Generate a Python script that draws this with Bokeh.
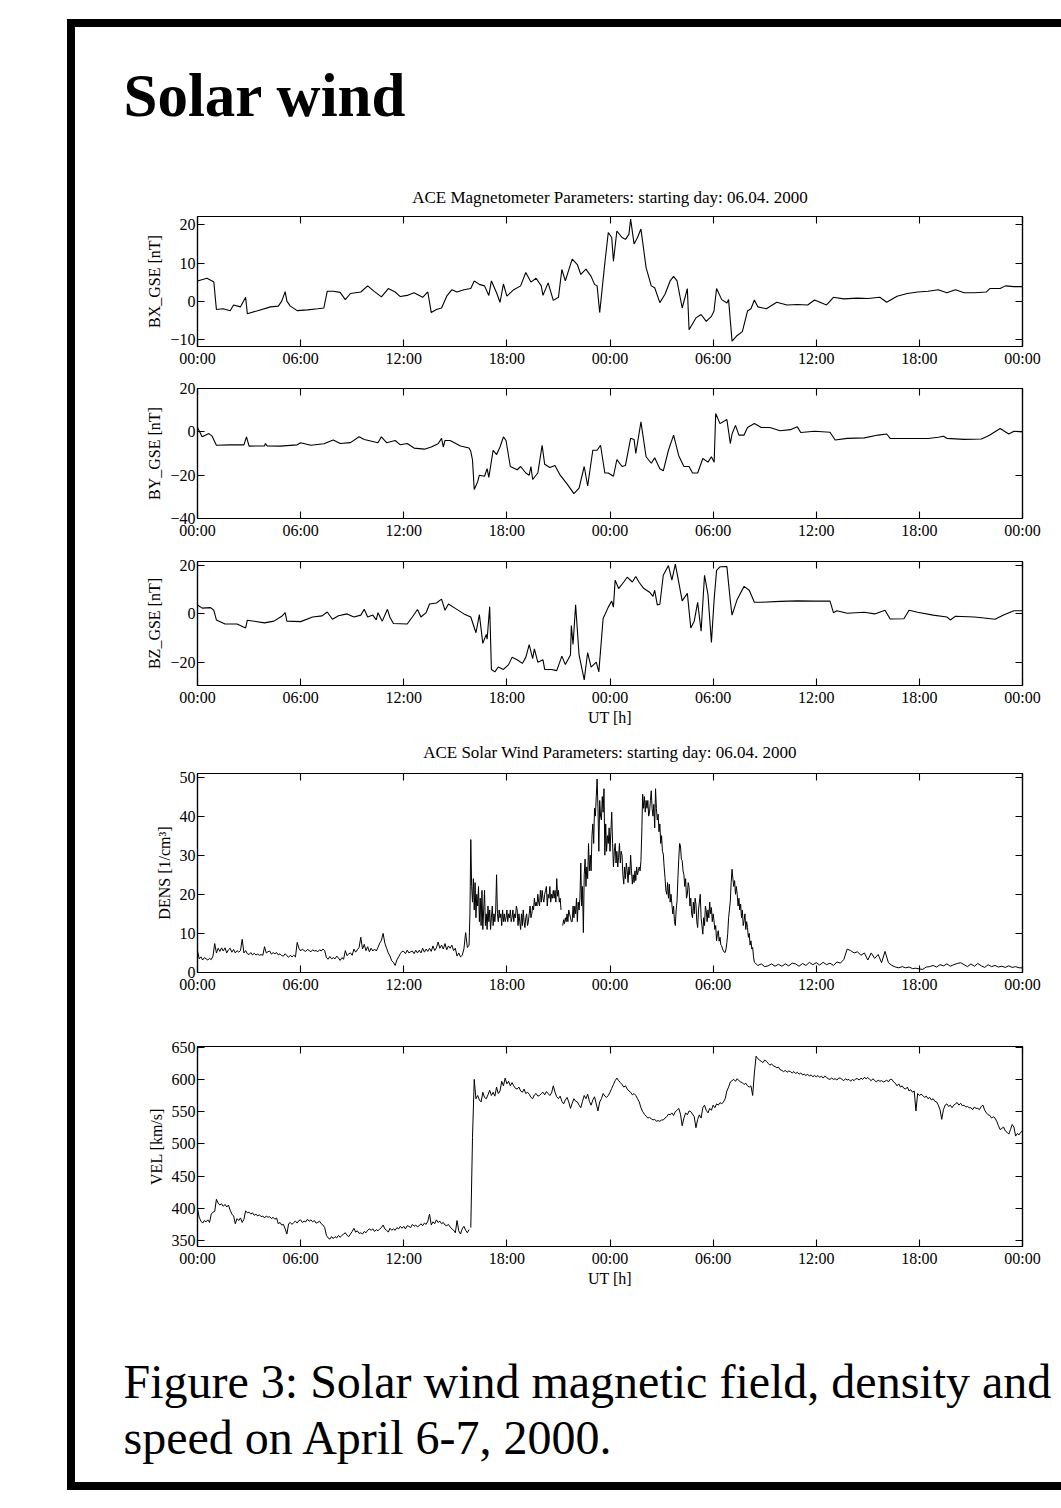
from bokeh.plotting import figure
from bokeh.layouts import column
from bokeh.models import Range1d, LinearAxis, FixedTicker, Label
from bokeh.embed import file_html
from bokeh.resources import INLINE

nan = float("nan")

# ---------------- data ----------------
x_tick_values = [0, 6, 12, 18, 24, 30, 36, 42, 48]
x_tick_labels = ["00:00", "06:00", "12:00", "18:00", "00:00", "06:00", "12:00", "18:00", "00:00"]

t_bx = [0.0, 0.55, 0.85, 0.95, 1.1, 1.5, 1.9, 2.1, 2.5, 2.8, 2.9, 3.5, 4.25, 4.7, 4.9, 5.1, 5.2, 5.4, 5.8, 6.4,
        7.0, 7.35, 7.55, 7.9, 8.3, 8.6, 8.9, 9.5, 9.9, 10.3, 10.7, 11.1, 11.5, 11.8, 12.2, 12.6, 13.1, 13.4, 13.6,
        13.9, 14.2, 14.5, 14.8, 15.1, 15.5, 15.9, 16.1, 16.4, 16.7, 16.95, 17.1, 17.4, 17.6, 17.8, 18.0, 18.4,
        18.8, 19.1, 19.4, 19.7, 20.0, 20.1, 20.4, 20.7, 21.0, 21.2, 21.4, 21.8, 22.1, 22.3, 22.6, 22.9, 23.1,
        23.25, 23.4, 23.7, 23.9, 24.1, 24.2, 24.4, 24.7, 24.9, 25.1, 25.2, 25.4, 25.6, 25.8, 26.1, 26.4, 26.6,
        26.9, 27.2, 27.5, 27.7, 27.9, 28.2, 28.5, 28.6, 29.0, 29.3, 29.6, 29.9, 30.05, 30.2, 30.5, 30.8, 30.9,
        31.1, 31.4, 31.7, 32.0, 32.2, 32.4, 32.6, 33.1, 33.7, 34.3, 34.9, 35.5, 35.9, 36.6, 37.0, 37.6, 38.4,
        39.0, 39.7, 40.1, 40.7, 41.3, 41.9, 42.5, 43.1, 43.6, 44.1, 44.6, 45.2, 45.9, 46.1, 46.7, 47.0, 47.5, 48.0]
bx = [5.3, 6.0, 5.3, 5.0, -2.2, -2.0, -2.5, -1.0, -1.5, 1.0, -3.3, -2.5, -1.5, -1.3, 0.0, 2.5, 0.0, -1.3, -2.5, -2.3,
      -2.0, -1.8, 2.6, 2.6, 2.3, 0.4, 2.0, 2.4, 4.0, 2.5, 1.1, 3.3, 2.4, 1.2, 1.5, 2.2, 1.0, 2.4, -3.0,
      -2.2, -1.8, 1.3, 3.0, 2.4, 3.0, 3.3, 5.3, 4.4, 4.0, 1.5, 5.3, 2.2, -0.3, 4.5, 1.3, 3.0,
      4.0, 7.5, 5.0, 6.0, 4.0, 1.5, 4.8, 0.2, 1.0, 8.3, 5.3, 11.0, 9.6, 7.0, 8.4, 6.5, 4.4,
      4.0, -3.0, 10.0, 18.0, 16.7, 10.5, 18.4, 16.7, 16.2, 17.5, 21.5, 15.0, 16.7, 18.9, 8.8, 4.0, 3.5,
      -0.4, 1.8, 5.3, 6.5, 5.3, -1.8, 3.3, -7.5, -4.4, -3.5, -5.3, -4.0, -2.6, 3.3, 0.4, -0.5, 0.4,
      -10.5, -9.0, -8.0, -2.6, -2.0, 0.3, -1.5, -2.0, -0.3, -1.0, -0.9, -1.0, 0.3, -1.0, 1.0, 0.6, 0.8,
      0.7, 1.0, -0.3, 1.3, 2.0, 2.4, 2.6, 3.0, 2.2, 3.0, 2.2, 2.2, 2.4, 3.3, 3.3, 4.0, 3.8, 3.8]

t_by = [0.0, 0.27, 0.66, 0.85, 1.1, 1.9, 2.7, 2.85, 3.0, 3.9, 3.95, 4.05, 4.8, 5.8, 6.0, 6.6, 7.35, 7.9, 8.3, 8.9,
        9.4, 9.7, 10.5, 10.7, 11.0, 11.5, 11.8, 12.2, 12.6, 13.2, 13.6, 14.0, 14.2, 14.3, 14.4, 14.7, 15.3, 15.8,
        15.9, 16.0, 16.1, 16.3, 16.4, 16.7, 16.85, 16.95, 17.2, 17.4, 17.6, 17.8, 17.95, 18.2, 18.6, 18.8, 19.1,
        19.3, 19.4, 19.5, 19.8, 19.9, 20.05, 20.2, 20.5, 20.8, 21.1, 21.5, 21.9, 22.2, 22.5, 22.7, 23.0, 23.25,
        23.45, 23.7, 23.9, 24.2, 24.4, 24.7, 24.9, 25.2, 25.4, 25.5, 25.8, 26.1, 26.4, 26.6, 26.9, 27.1, 27.4,
        27.7, 28.0, 28.3, 28.6, 28.8, 29.1, 29.4, 29.7, 29.9, 30.06, 30.15, 30.4, 30.8, 31.0, 31.1, 31.3, 31.5,
        31.8, 32.0, 32.4, 32.8, 33.3, 33.9, 34.5, 34.9, 35.1, 35.9, 36.8, 37.1, 37.8, 38.8, 39.6, 40.1, 40.3,
        41.3, 42.5, 43.1, 43.4, 43.6, 44.6, 45.6, 45.9, 46.1, 46.7, 47.2, 47.5, 48.0]
by = [2.0, -2.3, -0.8, -2.0, -6.2, -6.0, -6.0, -2.3, -6.6, -6.5, -5.4, -6.5, -6.6, -6.0, -5.0, -6.2, -5.5, -3.8, -5.4, -5.0,
      -2.3, -3.5, -5.0, -2.3, -5.0, -4.0, -6.0, -5.4, -7.5, -8.0, -7.0, -5.5, -3.0, -7.0, -4.0, -4.0, -6.5, -7.5,
      -9.0, -13.0, -26.6, -23.0, -20.0, -20.5, -17.0, -21.0, -8.5, -10.5, -7.0, -2.3, -4.0, -16.0, -17.5, -16.0, -19.0,
      -20.0, -16.0, -22.0, -19.0, -14.0, -6.2, -15.0, -16.5, -15.5, -20.0, -24.0, -28.5, -26.0, -16.0, -25.0, -8.5, -8.5,
      -6.2, -19.0, -19.0, -20.5, -12.8, -16.0, -15.5, -3.0, -3.5, -10.0, 4.6, -11.5, -14.5, -12.0, -17.0, -18.0, -8.5,
      -1.5, -11.0, -16.0, -16.0, -19.0, -19.0, -12.3, -14.0, -11.5, -14.0, 8.5, 3.8, 5.7, -5.4, -1.0, 3.0, -1.5,
      -1.5, 2.0, 3.8, 2.0, 2.0, 0.5, 1.0, 2.3, -0.3, 0.3, -0.2, -3.8, -3.0, -2.8, -1.5, -1.0, -3.0,
      -3.1, -3.1, -2.5, -2.0, -3.0, -3.5, -3.3, -2.3, -1.5, 1.5, -1.0, 0.3, 0.0]

t_bz = [0.0, 0.27, 0.76, 0.95, 1.1, 1.6, 2.3, 2.8, 2.9, 3.9, 4.45, 4.9, 5.1, 5.2, 6.0, 6.7, 7.25, 7.55, 7.85, 8.2,
        8.7, 9.1, 9.5, 9.7, 9.9, 10.2, 10.4, 10.5, 10.75, 11.05, 11.2, 11.4, 12.2, 12.5, 12.8, 13.0, 13.3, 13.5,
        13.9, 14.2, 14.4, 14.6, 15.0, 15.5, 15.9, 16.2, 16.4, 16.6, 16.8, 16.85, 17.0, 17.1, 17.3, 17.5, 17.8,
        18.1, 18.3, 18.6, 18.9, 19.1, 19.3, 19.5, 19.6, 19.8, 20.1, 20.2, 20.6, 20.9, 21.2, 21.4, 21.7, 21.75,
        21.85, 22.0, 22.2, 22.5, 22.7, 22.9, 23.2, 23.35, 23.6, 23.9, 24.1, 24.2, 24.3, 24.5, 24.8, 25.0, 25.3,
        25.5, 25.7, 25.97, 26.3, 26.5, 26.6, 26.75, 26.9, 27.1, 27.4, 27.6, 27.8, 27.95, 28.2, 28.5, 28.7, 28.9,
        29.1, 29.3, 29.5, 29.7, 29.9, 30.06, 30.2, 30.4, 30.8, 31.0, 31.1, 31.4, 31.8, 32.1, 32.4, 32.8, 33.9,
        34.9, 35.9, 36.8, 37.0, 37.2, 37.8, 38.8, 39.4, 40.0, 40.3, 41.1, 41.4, 41.9, 42.8, 43.6, 43.8, 44.1,
        45.2, 45.9, 46.4, 46.9, 47.5, 48.0]
bz = [3.7, 2.4, 2.6, 1.5, -2.5, -4.2, -4.2, -5.8, -2.6, -3.7, -3.0, -1.0, 0.5, -3.0, -3.2, -1.3, -0.8, 0.8, -2.2, -0.8,
      0.0, -1.3, -0.5, 1.9, -1.3, -0.5, -2.5, 0.5, -3.0, 1.9, -1.5, -4.0, -4.2, -1.3, 1.8, -1.3, 0.5, 4.1,
      4.5, 6.1, 1.5, 4.1, 2.3, 0.0, -1.3, -7.8, -0.3, -12.2, -8.5, -10.5, 3.0, -23.0, -24.0, -22.0, -23.0,
      -21.0, -18.0, -19.0, -20.5, -18.0, -12.7, -18.5, -14.5, -20.0, -19.0, -23.0, -23.0, -23.5, -17.5, -21.0, -17.0, -4.8,
      -12.7, 3.8, -17.0, -27.3, -16.0, -22.0, -20.0, -24.0, -1.9, 2.8, 5.3, 2.8, 14.0, 10.5, 13.2, 15.2, 13.2,
      15.5, 13.0, 10.5, 9.0, 7.3, 9.8, 3.7, 4.0, 16.0, 20.0, 14.0, 20.6, 15.0, 5.4, 8.5, -5.8, -3.0,
      4.8, -7.2, 16.0, 8.0, -11.8, 6.1, 18.0, 19.5, 19.6, 5.4, -0.5, 6.0, 11.4, 9.8, 4.8, 4.8, 5.2,
      5.4, 5.3, 5.3, 0.5, 1.3, 0.3, 0.7, 0.0, 1.5, -2.1, -2.0, 1.5, 0.7, -0.5, -1.3, -2.5, -1.0,
      -1.3, -1.8, -2.2, -0.5, 1.3, 1.3]

# Density: read in segments at a fixed sampling step (start hour, step in hours, values)
dens_seg1 = [5.5, 3.5, 4.0, 3.2, 3.8, 3.5, 3.2, 3.6, 3.3, 4.2,
             7.4, 5.0, 6.2, 5.4, 6.3, 5.5, 6.3, 5.0, 5.8, 6.2,
             5.2, 5.9, 5.0, 5.6, 5.2, 5.6, 8.5, 5.0, 5.6, 4.8,
             4.6, 5.1, 4.5, 4.9, 4.5, 4.7, 4.4, 4.6, 4.4, 6.6,
             5.0, 5.3, 5.5, 4.7, 5.1, 4.8, 5.1, 4.5, 4.8, 4.3,
             4.2, 4.8, 4.3, 3.9, 4.4, 4.0, 4.4, 4.0, 7.7, 6.2,
             5.5, 6.0, 5.6, 5.4, 5.9, 5.6, 5.3, 5.8, 5.5, 5.6,
             5.3, 5.8, 5.5, 6.0, 5.6, 3.8, 3.4, 4.1, 3.5, 3.8,
             3.5, 4.2, 3.7, 3.1, 3.8, 3.4, 5.6, 4.3, 4.8, 5.0,
             4.4, 6.0, 5.2, 5.8, 6.4, 9.0, 6.0, 7.2, 5.6, 6.6,
             5.3, 6.2, 5.5, 6.0, 5.5, 6.4, 7.5, 8.2, 10.0, 7.5,
             6.2, 5.0, 4.2, 3.0, 2.6, 1.8, 3.2, 4.0, 4.8, 5.4,
             5.4, 4.8, 5.7, 5.0, 5.3, 5.5, 4.8, 5.7, 5.0, 5.7,
             5.0, 6.2, 5.2, 6.0, 5.4, 6.2, 5.4, 6.8, 5.6, 6.3,
             7.8, 6.2, 7.0, 6.0, 7.4, 5.8, 6.8, 6.2, 7.0, 5.6,
             6.2, 4.2, 5.0, 4.0, 4.4, 6.0, 10.2, 6.4, 7.0]
dens_seg2 = [15, 34, 22, 18, 24, 16, 23, 14, 20, 17,
             22, 13, 19, 12, 21, 11, 16, 21, 12, 15,
             11, 17, 13, 16, 11, 14, 17, 12, 15, 13,
             16, 25, 15, 13, 16, 14, 15, 12, 16, 13,
             15, 13, 14, 16, 13, 15, 14, 16, 13, 14,
             16, 13, 15, 14, 17, 16, 12, 15, 13, 11,
             15, 12, 16, 13, 11.5, 14, 15, 12, 13, 15,
             17, 14, 15, 17, 16, 19, 17, 18, 17, 20,
             18, 17, 21, 18, 21, 19, 18, 20, 21, 22,
             17, 20, 19, 22, 18, 20, 19, 21, 19, 21,
             18, 24, 19.5, 21, 18, 19, 16]
dens_seg3 = [12, 13.5, 12.5, 14, 13, 15, 13, 16, 15, 14,
             13, 13, 17, 14, 17, 15, 19, 13, 18, 16,
             19, 28, 17, 22, 10.2, 25, 29, 22, 27, 24,
             33, 26, 30, 26, 35, 38, 33, 42, 40, 45,
             49.5, 42, 31, 44, 40, 39, 45, 41, 47, 30,
             38, 31, 35, 33, 37, 31, 36, 41, 33, 27,
             31, 33, 28, 31, 27, 29.5, 33, 28, 31, 30,
             25, 22.6, 27, 24, 28, 26, 23, 27, 25, 30,
             26, 22.6, 25, 23, 26, 23.5, 27, 25, 26, 27,
             26, 28.6, 36, 45.6, 42, 45, 41, 44, 42, 44,
             40, 41, 44, 46.5, 42, 40, 43, 37, 47, 42,
             39, 40.5, 36, 38, 33,
             35, 31, 30.3, 27, 24.3, 21, 20, 23, 19, 22.6,
             18, 20, 17.5, 15, 17, 13, 12, 16, 18.3, 24,
             29, 33, 32.4, 29, 28.6, 26, 25, 22, 24, 19,
             20, 23, 21.8, 17, 19, 15, 14, 18, 15, 19,
             17.5, 13, 11.5, 16, 18, 20, 14, 12, 9.8, 14,
             12, 17, 15.8, 13, 16, 14, 18, 15, 16.6, 13,
             15, 13.2, 11, 12, 8.1, 10, 10.7, 8, 9, 7,
             6.8, 6, 5.5, 5.2, 5.1, 6, 7.7, 10, 14, 16,
             18.3, 23, 26.4, 24, 22, 23.5, 20, 22, 20, 17,
             19, 16, 17.5, 14, 16, 12, 13.2, 15, 11, 13,
             11.5, 9, 10, 7, 8.1, 6, 6.4, 4, 2.6]
dens_seg4 = [1.8, 2.2, 1.5, 1.7, 2.2, 1.6, 2.1, 1.6, 2.2, 1.7,
             2.4, 2.2, 1.6, 2.3, 1.8, 2.6, 2.0, 2.5, 1.9, 2.6,
             2.0, 2.4, 1.8, 2.7, 2.4, 3.3, 6.0, 5.6, 5.0, 5.3,
             4.4, 5.0, 3.2, 5.0, 3.6, 4.6, 2.5, 5.4, 2.5, 1.8,
             1.4, 1.2, 1.5, 1.2, 1.4, 1.0, 1.1, 0.9, 0.8, 1.4,
             1.5, 1.8, 1.4, 2.0, 1.7, 2.2, 1.6, 2.0, 2.3, 2.5,
             2.0, 1.5, 2.2, 1.6, 2.3, 1.7, 1.3, 2.0, 1.5, 1.8,
             1.4, 1.6, 1.3, 1.7, 1.3, 1.5, 1.2, 1.2]
dens_segments = [(0.0, 0.1, dens_seg1), (15.85, 0.05, dens_seg2), (21.25, 0.05, dens_seg3), (32.6, 0.2, dens_seg4)]
dens_gap_after = {1: 21.2}

# Velocity: two segments at 0.1 h sampling (a data gap just before the shock)
vel_seg1 = [399, 386, 380, 377, 381, 379, 382, 378, 391, 394,
            395, 414, 408, 405, 407, 403, 406, 402, 405, 397,
            391, 388, 376, 384, 381, 385, 378, 383, 396, 393,
            394, 391, 393, 389, 391, 388, 390, 387, 388, 385,
            388, 386, 387, 384, 386, 383, 385, 376, 378, 374,
            375, 368, 360, 376, 378, 375, 378, 380, 377, 381,
            382, 378, 380, 379, 383, 380, 382, 379, 381, 377,
            378, 380, 376, 374, 370, 358, 354, 352, 356, 353,
            356, 354, 358, 355, 358, 360, 362, 358, 356, 360,
            364, 369, 363, 365, 361, 362, 360, 364, 362, 366,
            368, 366, 368, 364, 367, 365, 368, 370, 374, 368,
            366, 363, 369, 366, 368, 366, 370, 368, 372, 369,
            372, 368, 373, 372, 370, 375, 372, 374, 371, 373,
            376, 373, 377, 375, 380, 391, 374, 379, 376, 382,
            378, 380, 376, 378, 374, 373, 375, 371, 368, 366,
            362, 381, 365, 360, 368, 372, 366, 362, 367]
vel_seg2 = [370,
            510, 600, 570, 575, 568, 565, 580, 572, 570, 576,
            583, 575, 580, 574, 588, 578, 582, 597, 590, 602,
            593, 597, 590, 595, 590, 586, 585, 588, 582, 580,
            585, 578, 580, 577, 572, 570, 576, 578, 574, 575,
            578, 580, 576, 581, 578, 575, 579, 590, 580, 573,
            570, 574, 566, 562, 568, 572, 565, 555, 563, 570,
            566, 565, 560, 556, 566, 575, 570, 577, 566, 560,
            568, 573, 562, 551, 565, 570, 578, 574, 572, 575,
            580, 586, 592, 598, 602, 598, 595, 592, 588, 590,
            585, 582, 580, 576, 578, 575, 570, 565, 556, 550,
            546, 543, 540, 541, 539, 537, 538, 535, 536, 535,
            537, 537, 540, 542, 546, 545, 548, 544, 550, 552,
            555, 546, 528, 540, 548, 545, 551, 550, 546, 542,
            525, 538, 545, 540, 556, 560, 552, 548, 555, 552,
            560, 556, 562, 560, 564, 562, 565, 570, 582, 588,
            596, 598, 600, 597, 601, 598, 596, 595, 592, 594,
            590, 588, 590, 575, 610, 636, 632, 630, 628, 626,
            630, 628, 625, 622, 624, 621, 620, 618, 619, 615,
            614, 612, 614, 611, 613, 612, 610, 612, 609, 611,
            608, 610, 607, 608, 606, 608, 605, 607, 604, 606,
            604, 606, 603, 605, 602, 605, 603, 601, 600, 602,
            600, 601, 599, 602, 602, 600, 598, 601, 599, 600,
            597, 600, 598, 601, 601, 599, 602, 600, 603, 601,
            603, 600, 598, 601, 598, 596, 599, 597, 598, 596,
            597, 599, 596, 600, 600, 596, 594, 590, 593, 588,
            590, 586, 585, 588, 582, 584, 580, 582, 551, 578,
            575, 577, 575, 572, 574, 570, 572, 568, 570, 566,
            565, 560, 553, 538, 553, 560, 562, 558, 560, 556,
            560, 562, 564, 560, 563, 559, 560, 557, 558, 556,
            556, 553, 557, 555, 555, 553, 558, 560, 552, 548,
            545, 544, 540, 542, 540, 535, 528, 522, 524, 526,
            520, 518, 515, 522, 530, 526, 512, 516, 514, 518,
            520]
vel_segments = [(0.0, 0.1, vel_seg1), (15.9, 0.1, vel_seg2)]
vel_gap_after = {0: 15.85}


def build_series(segments, gaps):
    ts, vs = [], []
    for k, (t0, dt, vals) in enumerate(segments):
        ts.extend(round(t0 + i * dt, 3) for i in range(len(vals)))
        vs.extend(vals)
        if k in gaps:
            ts.append(gaps[k])
            vs.append(nan)
    return ts, vs


t_dens, dens = build_series(dens_segments, dens_gap_after)
t_vel, vel = build_series(vel_segments, vel_gap_after)

# ---------------- layout ----------------
W = 986
SERIF = "Liberation Serif"


def text_fig(h):
    p = figure(width=W, height=h, x_range=Range1d(0, W), y_range=Range1d(0, h),
               output_backend="svg", toolbar_location=None, min_border=0,
               x_axis_location=None, y_axis_location=None, frame_align=False)
    p.grid.visible = False
    p.outline_line_color = None
    return p


def style_axis(ax, show_labels):
    ax.axis_line_color = "black"
    ax.axis_line_width = 1.2
    ax.major_tick_line_color = "black"
    ax.major_tick_line_width = 1.1
    ax.major_tick_in = 7
    ax.major_tick_out = 0
    ax.minor_tick_line_color = None
    ax.major_label_text_font = SERIF
    ax.axis_label_text_font = SERIF
    ax.axis_label_text_font_style = "normal"
    ax.axis_label_text_font_size = "16px"
    ax.axis_label_text_color = "black"
    if show_labels:
        ax.major_label_text_font_size = "16px"
        ax.major_label_text_color = "black"
    else:
        ax.major_label_text_font_size = "1px"
        ax.major_label_text_color = None
        ax.major_label_standoff = 0


def panel(t, v, yr, yticks, ylabel, height, top, bottom, xlabel=None, lw=1.1):
    p = figure(width=W, height=height, x_range=Range1d(0, 48), y_range=Range1d(*yr),
               output_backend="svg", toolbar_location=None,
               min_border_left=122, min_border_right=39,
               min_border_top=top, min_border_bottom=bottom)
    p.grid.visible = False
    p.outline_line_color = "black"
    p.outline_line_width = 1.2
    p.line(t, v, line_color="black", line_width=lw)
    p.add_layout(LinearAxis(), "above")
    p.add_layout(LinearAxis(), "right")
    overrides = {v_: l_ for v_, l_ in zip(x_tick_values, x_tick_labels)}
    for ax, show in ((p.below[0], True), (p.above[0], False)):
        ax.ticker = FixedTicker(ticks=x_tick_values)
        ax.major_label_overrides = overrides
        style_axis(ax, show)
    p.below[0].major_label_standoff = 3
    if xlabel:
        p.below[0].axis_label = xlabel
        p.below[0].axis_label_standoff = 0
    for ax, show in ((p.left[0], True), (p.right[0], False)):
        ax.ticker = FixedTicker(ticks=yticks)
        style_axis(ax, show)
    p.left[0].axis_label = ylabel
    p.left[0].major_label_standoff = 2
    p.left[0].axis_label_standoff = 4
    return p


header = text_fig(180)
header.add_layout(Label(x=48, y=112, text="Solar wind", text_font=SERIF, text_font_size="61px",
                        text_font_style="bold", text_color="black", text_baseline="middle"))
header.add_layout(Label(x=534.5, y=10, text="ACE Magnetometer Parameters: starting day: 06.04. 2000",
                        text_font=SERIF, text_font_size="17px", text_color="black",
                        text_align="center", text_baseline="middle"))

p_bx = panel(t_bx, bx, (-11.9, 22.2), [-10, 0, 10, 20], "BX_GSE [nT]", 165, 9, 26)
p_by = panel(t_by, by, (-40, 20), [-40, -20, 0, 20], "BY_GSE [nT]", 173, 16, 27)
p_bz = panel(t_bz, bz, (-29.65, 21.7), [-20, 0, 20], "BZ_GSE [nT]", 183, 16, 38, xlabel="UT [h]")

sub2 = text_fig(37)
sub2.add_layout(Label(x=534.5, y=13, text="ACE Solar Wind Parameters: starting day: 06.04. 2000",
                      text_font=SERIF, text_font_size="17px", text_color="black",
                      text_align="center", text_baseline="middle"))

p_dens = panel(t_dens, dens, (0, 50.9), [0, 10, 20, 30, 40, 50], "DENS [1/cm³]", 235, 8, 28, lw=1.0)
p_vel = panel(t_vel, vel, (340.7, 651), [350, 400, 450, 500, 550, 600, 650], "VEL [km/s]", 290, 46, 44,
              xlabel="UT [h]", lw=1.0)

caption = text_fig(192)
caption.add_layout(Label(x=48, y=101, text="Figure 3: Solar wind magnetic field, density and",
                         text_font=SERIF, text_font_size="48px", text_color="black",
                         text_baseline="middle"))
caption.add_layout(Label(x=48, y=45, text="speed on April 6-7, 2000.",
                         text_font=SERIF, text_font_size="48px", text_color="black",
                         text_baseline="middle"))

page = column(header, p_bx, p_by, p_bz, sub2, p_dens, p_vel, caption, spacing=0,
              styles={"margin-left": "67px", "margin-top": "19px",
                      "border-left": "8px solid black", "border-top": "8px solid black",
                      "border-bottom": "8px solid black"})

open("out.html", "w").write(file_html(page, INLINE))
